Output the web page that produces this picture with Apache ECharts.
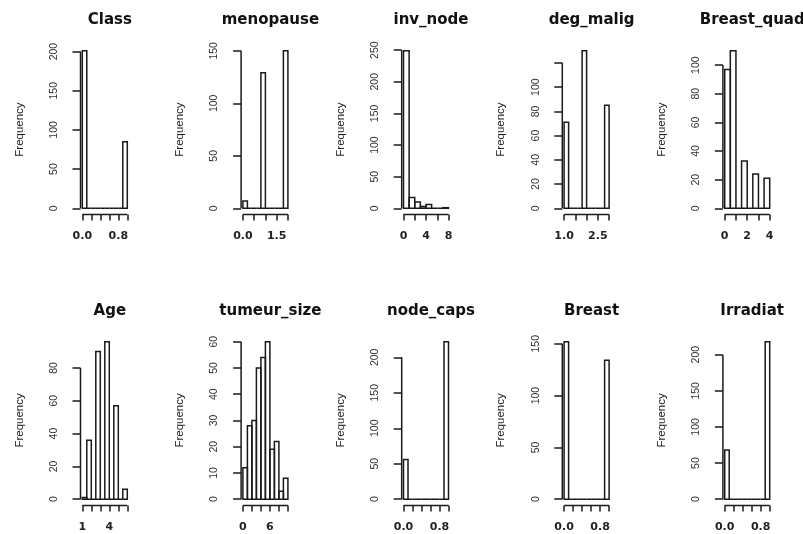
<!DOCTYPE html>
<html>
<head>
<meta charset="utf-8">
<script src="https://cdn.jsdelivr.net/npm/echarts@6/dist/echarts.min.js"></script>
<style>html,body{margin:0;padding:0;background:#fff}#c{width:803px;height:534px}</style>
</head>
<body>
<div id="c"></div>
<script>
// ---- data ----
const titles = ['Class','menopause','inv_node','deg_malig','Breast_quad','Age','tumeur_size','node_caps','Breast','Irradiat'];

const classBreaks = [0,0.1,0.2,0.3,0.4,0.5,0.6,0.7,0.8,0.9,1.0];
const classCounts = [201,0,0,0,0,0,0,0,0,85];
const classXTicks = [0,0.2,0.4,0.6,0.8,1.0];
const classXLabels = [0,0.8];
const classYTicks = [0,50,100,150,200];
const classYLabels = [0,50,100,150,200];

const menoBreaks = [0,0.2,0.4,0.6,0.8,1.0,1.2,1.4,1.6,1.8,2.0];
const menoCounts = [7,0,0,0,129,0,0,0,0,150];
const menoXTicks = [0,0.5,1.0,1.5,2.0];
const menoXLabels = [0,1.5];
const menoYTicks = [0,50,100,150];
const menoYLabels = [0,50,100,150];

const invBreaks = [0,1,2,3,4,5,6,7,8];
const invCounts = [249,17,10,3,6,0,0,1];
const invXTicks = [0,2,4,6,8];
const invXLabels = [0,4,8];
const invYTicks = [0,50,100,150,200,250];
const invYLabels = [0,50,100,150,200,250];

const degBreaks = [1.0,1.2,1.4,1.6,1.8,2.0,2.2,2.4,2.6,2.8,3.0];
const degCounts = [71,0,0,0,130,0,0,0,0,85];
const degXTicks = [1.0,1.5,2.0,2.5,3.0];
const degXLabels = [1.0,2.5];
const degYTicks = [0,20,40,60,80,100,120];
const degYLabels = [0,20,40,60,80,100];

const quadBreaks = [0,0.5,1.0,1.5,2.0,2.5,3.0,3.5,4.0];
const quadCounts = [97,110,0,33,0,24,0,21];
const quadXTicks = [0,1,2,3,4];
const quadXLabels = [0,2,4];
const quadYTicks = [0,20,40,60,80,100];
const quadYLabels = [0,20,40,60,80,100];

const ageBreaks = [1.0,1.5,2.0,2.5,3.0,3.5,4.0,4.5,5.0,5.5,6.0];
const ageCounts = [1,36,0,90,0,96,0,57,0,6];
const ageXTicks = [1,2,3,4,5,6];
const ageXLabels = [1,4];
const ageYTicks = [0,20,40,60,80];
const ageYLabels = [0,20,40,60,80];

const tumBreaks = [0,1,2,3,4,5,6,7,8,9,10];
const tumCounts = [12,28,30,50,54,60,19,22,3,8];
const tumXTicks = [0,2,4,6,8,10];
const tumXLabels = [0,6];
const tumYTicks = [0,10,20,30,40,50,60];
const tumYLabels = [0,10,20,30,40,50,60];

const capsBreaks = [0,0.1,0.2,0.3,0.4,0.5,0.6,0.7,0.8,0.9,1.0];
const capsCounts = [56,0,0,0,0,0,0,0,0,222];
const capsXTicks = [0,0.2,0.4,0.6,0.8,1.0];
const capsXLabels = [0,0.8];
const capsYTicks = [0,50,100,150,200];
const capsYLabels = [0,50,100,150,200];

const breastBreaks = [0,0.1,0.2,0.3,0.4,0.5,0.6,0.7,0.8,0.9,1.0];
const breastCounts = [152,0,0,0,0,0,0,0,0,134];
const breastXTicks = [0,0.2,0.4,0.6,0.8,1.0];
const breastXLabels = [0,0.8];
const breastYTicks = [0,50,100,150];
const breastYLabels = [0,50,100,150];

const irrBreaks = [0,0.1,0.2,0.3,0.4,0.5,0.6,0.7,0.8,0.9,1.0];
const irrCounts = [68,0,0,0,0,0,0,0,0,218];
const irrXTicks = [0,0.2,0.4,0.6,0.8,1.0];
const irrXLabels = [0,0.8];
const irrYTicks = [0,50,100,150,200];
const irrYLabels = [0,50,100,150,200];

const xDecimals = [1,1,0,1,0,0,0,1,1,1];

const panels = [
  [classBreaks, classCounts, classXTicks, classXLabels, classYTicks, classYLabels],
  [menoBreaks, menoCounts, menoXTicks, menoXLabels, menoYTicks, menoYLabels],
  [invBreaks, invCounts, invXTicks, invXLabels, invYTicks, invYLabels],
  [degBreaks, degCounts, degXTicks, degXLabels, degYTicks, degYLabels],
  [quadBreaks, quadCounts, quadXTicks, quadXLabels, quadYTicks, quadYLabels],
  [ageBreaks, ageCounts, ageXTicks, ageXLabels, ageYTicks, ageYLabels],
  [tumBreaks, tumCounts, tumXTicks, tumXLabels, tumYTicks, tumYLabels],
  [capsBreaks, capsCounts, capsXTicks, capsXLabels, capsYTicks, capsYLabels],
  [breastBreaks, breastCounts, breastXTicks, breastXLabels, breastYTicks, breastYLabels],
  [irrBreaks, irrCounts, irrXTicks, irrXLabels, irrYTicks, irrYLabels]
];

// ---- layout ----
const colStep = 160.6, plotLeft0 = 80.5, plotW = 48.6;
const rowTop = [44.5, 335.4], plotH = 170.1;
const titleTop = [8, 299];
const LINE = '#1a1a1a';

const grid = [], xAxis = [], yAxis = [], series = [], title = [];
panels.forEach((p, i) => {
  const [breaks, counts, xt, xl, yt, yl] = p;
  const col = i % 5, row = Math.floor(i / 5);
  const left = plotLeft0 + col * colStep, top = rowTop[row];
  grid.push({left: left, top: top, width: plotW, height: plotH, containLabel: false});
  title.push({
    text: titles[i], left: left + plotW / 2, top: titleTop[row], textAlign: 'center',
    textStyle: {fontFamily: 'DejaVu Sans', fontWeight: 'bold', fontSize: 15, color: '#111'}
  });
  const xa = breaks[0], xb = breaks[breaks.length - 1];
  const xr = xb - xa;
  const xmin = xa - 0.04 * xr, xmax = xb + 0.04 * xr;
  const M = Math.max.apply(null, counts);
  const ymin = -0.04 * M, ymax = 1.04 * M;
  const dec = xDecimals[i];
  xAxis.push({
    type: 'value', gridIndex: i, min: xmin, max: xmax,
    axisLine: {show: false, onZero: false}, splitLine: {show: false},
    axisTick: {show: true, length: 6, customValues: xt, lineStyle: {color: LINE, width: 1.5}},
    axisLabel: {show: true, customValues: xl, margin: 16, formatter: v => Number(v).toFixed(dec),
      fontFamily: 'DejaVu Sans', fontWeight: 'bold', fontSize: 11, color: '#222'}
  });
  yAxis.push({
    type: 'value', gridIndex: i, min: ymin, max: ymax,
    name: 'Frequency', nameLocation: 'middle', nameRotate: 90, nameGap: 55,
    nameTextStyle: {fontFamily: 'Liberation Sans', fontSize: 11.5, color: '#222'},
    axisLine: {show: false, onZero: false}, splitLine: {show: false},
    axisTick: {show: true, length: 8, customValues: yt, lineStyle: {color: LINE, width: 1.5}},
    axisLabel: {show: true, customValues: yl, rotate: 90, margin: 21,
      fontFamily: 'Liberation Sans', fontSize: 10.5, color: '#333'}
  });
  const bars = [];
  for (let k = 0; k < counts.length; k++) bars.push([breaks[k], breaks[k + 1], counts[k]]);
  series.push({
    type: 'custom', xAxisIndex: i, yAxisIndex: i, clip: false, silent: true,
    encode: {x: [0, 1], y: 2},
    data: bars,
    renderItem: (params, api) => {
      const p0 = api.coord([api.value(0), 0]);
      const p1 = api.coord([api.value(1), api.value(2)]);
      return {type: 'rect',
        shape: {x: p0[0], y: p1[1], width: p1[0] - p0[0], height: p0[1] - p1[1]},
        style: {fill: 'transparent', stroke: LINE, lineWidth: 1.5}};
    }
  });
  // R-style axis lines, spanning first to last tick
  series.push({
    type: 'line', xAxisIndex: i, yAxisIndex: i, clip: false, silent: true, symbol: 'none',
    lineStyle: {color: LINE, width: 1.5},
    data: [[xt[0], ymin], [xt[xt.length - 1], ymin]]
  });
  series.push({
    type: 'line', xAxisIndex: i, yAxisIndex: i, clip: false, silent: true, symbol: 'none',
    lineStyle: {color: LINE, width: 1.5},
    data: [[xmin, yt[0]], [xmin, yt[yt.length - 1]]]
  });
});

const chart = echarts.init(document.getElementById('c'), null, {renderer: 'canvas'});
chart.setOption({
  animation: false, backgroundColor: '#fff',
  title: title, grid: grid, xAxis: xAxis, yAxis: yAxis, series: series
});
</script>
</body>
</html>
